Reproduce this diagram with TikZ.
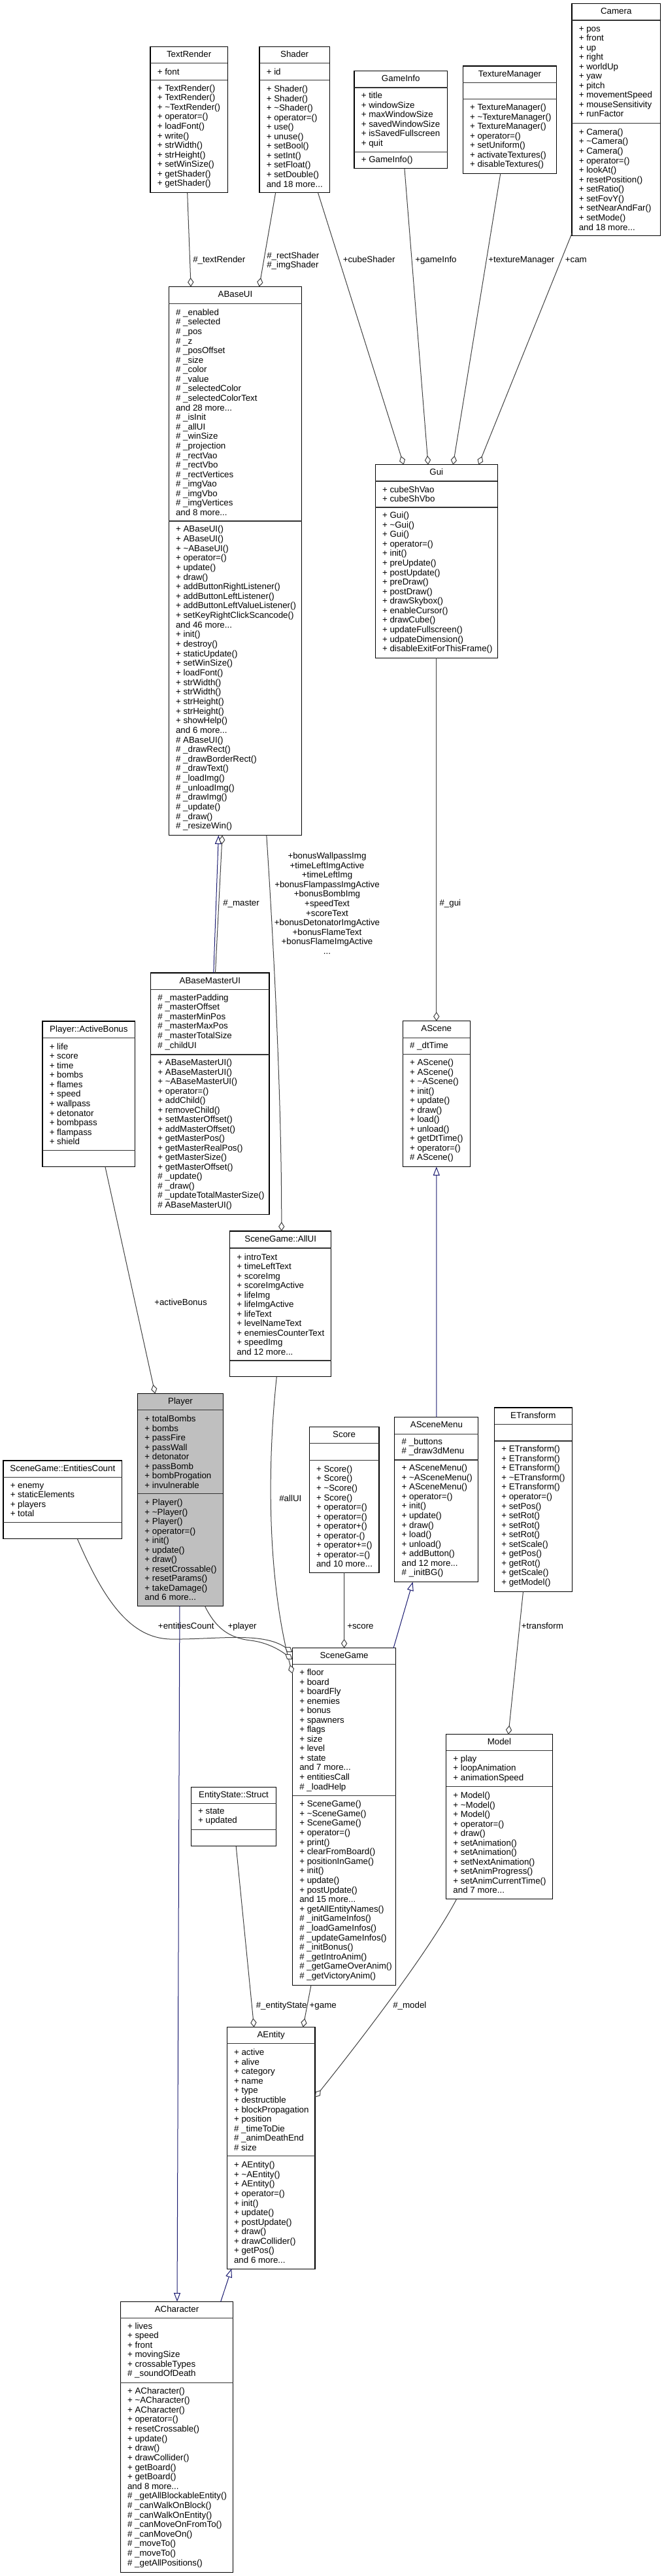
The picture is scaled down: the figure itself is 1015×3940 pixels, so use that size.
\documentclass[tikz,border=0pt]{standalone}
\usepackage{fontspec}
\setmainfont{Liberation Sans}
\usetikzlibrary{arrows.meta,calc}
\definecolor{gcol}{HTML}{404040}
\definecolor{icol}{HTML}{191970}
\definecolor{pfill}{HTML}{BFBFBF}
\newcommand\umlbox[9]{%
 \pgfmathsetmacro\bw{((#3)-(#2))*0.75}%
 \pgfmathsetmacro\bh{((#7)-(#4))*0.75}%
 \node[umlframe, fill=#8, minimum width=\bw pt, minimum height=\bh pt] (#1) at (#2,#4) {};
 \draw[sepline] (#2,#5) -- (#3,#5) (#2,#6) -- (#3,#6);
 \node[ttl] (#1-t) at ({((#2)+(#3))/2},{((#4)+(#5))/2}) {#9};
}
\newcommand\ctext[6]{%
 \pgfmathsetmacro\lsp{((#4)-(#3)-12)/(#5)*0.75}%
 \node[ctxt, font=\fontsize{10pt}{\lsp pt}\selectfont] (#1) at ({(#2)+10.5},{((#3)+(#4))/2}) {#6};
}
\newcommand\tl{\textasciitilde}
\begin{document}
\begin{tikzpicture}[x=0.75pt,y=-0.75pt, font=\fontsize{10pt}{10.95pt}\selectfont,
 umlframe/.style={draw=black, line width=0.8pt, inner sep=0pt, outer sep=0pt, anchor=north west},
 sepline/.style={draw=black!80, line width=0.8pt},
 ttl/.style={inner sep=0pt, text height=7.3pt, text depth=2.1pt},
 ctxt/.style={anchor=west, align=left, inner sep=0pt},
 elabel/.style={anchor=west, inner sep=0pt, text height=7.3pt, text depth=2.1pt},
 mlabel/.style={inner sep=0pt, font=\fontsize{10pt}{10.95pt}\selectfont},
 agg/.style={draw=gcol, line width=0.75pt, -{Diamond[length=10.5pt,width=7pt,fill=white]}},
 inh/.style={draw=icol, line width=0.75pt, -{Triangle[length=10pt,width=7.5pt,fill=white]}}]
\fill[white] (0,0) rectangle (1015,3940);
\useasboundingbox (0,0) rectangle (1015,3940);

% ---------- boxes ----------
\umlbox{TextRender}{230}{348.3}{71.4}{96.8}{122.5}{294.6}{white}{TextRender}
\ctext{TextRender-a}{230}{96.8}{122.5}{1}{+ font}
\ctext{TextRender-m}{230}{122.5}{294.6}{11}{+ TextRender()\\+ TextRender()\\+ \tl TextRender()\\+ operator=()\\+ loadFont()\\+ write()\\+ strWidth()\\+ strHeight()\\+ setWinSize()\\+ getShader()\\+ getShader()}

\umlbox{Shader}{397}{504.3}{71.4}{96.8}{122.5}{294.6}{white}{Shader}
\ctext{Shader-a}{397}{96.8}{122.5}{1}{+ id}
\ctext{Shader-m}{397}{122.5}{294.6}{11}{+ Shader()\\+ Shader()\\+ \tl Shader()\\+ operator=()\\+ use()\\+ unuse()\\+ setBool()\\+ setInt()\\+ setFloat()\\+ setDouble()\\and 18 more...}

\umlbox{GameInfo}{542}{684.5}{108.2}{134}{232.9}{257.9}{white}{GameInfo}
\ctext{GameInfo-a}{542}{134}{232.9}{6}{+ title\\+ windowSize\\+ maxWindowSize\\+ savedWindowSize\\+ isSavedFullscreen\\+ quit}
\ctext{GameInfo-m}{542}{232.9}{257.9}{1}{+ GameInfo()}

\umlbox{TextureManager}{708.3}{851.7}{101}{126.4}{151.8}{265.4}{white}{TextureManager}
\ctext{TextureManager-m}{708.3}{151.8}{265.4}{7}{+ TextureManager()\\+ \tl TextureManager()\\+ TextureManager()\\+ operator=()\\+ setUniform()\\+ activateTextures()\\+ disableTextures()}

\umlbox{Camera}{875}{1010.4}{5.4}{31}{188.2}{360.7}{white}{Camera}
\ctext{Camera-a}{875}{31}{188.2}{10}{+ pos\\+ front\\+ up\\+ right\\+ worldUp\\+ yaw\\+ pitch\\+ movementSpeed\\+ mouseSensitivity\\+ runFactor}
\ctext{Camera-m}{875}{188.2}{360.7}{11}{+ Camera()\\+ \tl Camera()\\+ Camera()\\+ operator=()\\+ lookAt()\\+ resetPosition()\\+ setRatio()\\+ setFovY()\\+ setNearAndFar()\\+ setMode()\\and 18 more...}

\umlbox{ABaseUI}{258.3}{461.7}{438.6}{464.3}{797}{1277.7}{white}{ABaseUI}
\ctext{ABaseUI-a}{258.3}{464.3}{797}{22}{\# \_enabled\\\# \_selected\\\# \_pos\\\# \_z\\\# \_posOffset\\\# \_size\\\# \_color\\\# \_value\\\# \_selectedColor\\\# \_selectedColorText\\and 28 more...\\\# \_isInit\\\# \_allUI\\\# \_winSize\\\# \_projection\\\# \_rectVao\\\# \_rectVbo\\\# \_rectVertices\\\# \_imgVao\\\# \_imgVbo\\\# \_imgVertices\\and 8 more...}
\ctext{ABaseUI-m}{258.3}{797}{1277.7}{32}{+ ABaseUI()\\+ ABaseUI()\\+ \tl ABaseUI()\\+ operator=()\\+ update()\\+ draw()\\+ addButtonRightListener()\\+ addButtonLeftListener()\\+ addButtonLeftValueListener()\\+ setKeyRightClickScancode()\\and 46 more...\\+ init()\\+ destroy()\\+ staticUpdate()\\+ setWinSize()\\+ loadFont()\\+ strWidth()\\+ strWidth()\\+ strHeight()\\+ strHeight()\\+ showHelp()\\and 6 more...\\\# ABaseUI()\\\# \_drawRect()\\\# \_drawBorderRect()\\\# \_drawText()\\\# \_loadImg()\\\# \_unloadImg()\\\# \_drawImg()\\\# \_update()\\\# \_draw()\\\# \_resizeWin()}

\umlbox{Gui}{574.3}{761.3}{710.8}{736}{776}{1006.4}{white}{Gui}
\ctext{Gui-a}{574.3}{736}{776}{2}{+ cubeShVao\\+ cubeShVbo}
\ctext{Gui-m}{574.3}{776}{1006.4}{15}{+ Gui()\\+ \tl Gui()\\+ Gui()\\+ operator=()\\+ init()\\+ preUpdate()\\+ postUpdate()\\+ preDraw()\\+ postDraw()\\+ drawSkybox()\\+ enableCursor()\\+ drawCube()\\+ updateFullscreen()\\+ udpateDimension()\\+ disableExitForThisFrame()}

\umlbox{ABaseMasterUI}{230.7}{412}{1488}{1513.3}{1613}{1857.3}{white}{ABaseMasterUI}
\ctext{ABaseMasterUI-a}{230.7}{1513.3}{1613}{6}{\# \_masterPadding\\\# \_masterOffset\\\# \_masterMinPos\\\# \_masterMaxPos\\\# \_masterTotalSize\\\# \_childUI}
\ctext{ABaseMasterUI-m}{230.7}{1613}{1857.3}{16}{+ ABaseMasterUI()\\+ ABaseMasterUI()\\+ \tl ABaseMasterUI()\\+ operator=()\\+ addChild()\\+ removeChild()\\+ setMasterOffset()\\+ addMasterOffset()\\+ getMasterPos()\\+ getMasterRealPos()\\+ getMasterSize()\\+ getMasterOffset()\\\# \_update()\\\# \_draw()\\\# \_updateTotalMasterSize()\\\# ABaseMasterUI()}

\umlbox{ActiveBonus}{65}{206.7}{1562}{1587.2}{1759.2}{1784.5}{white}{Player::ActiveBonus}
\ctext{ActiveBonus-a}{65}{1587.2}{1759.2}{11}{+ life\\+ score\\+ time\\+ bombs\\+ flames\\+ speed\\+ wallpass\\+ detonator\\+ bombpass\\+ flampass\\+ shield}

\umlbox{AScene}{616.3}{719.3}{1561.7}{1587.3}{1612.9}{1784.6}{white}{AScene}
\ctext{AScene-a}{616.3}{1587.3}{1612.9}{1}{\# \_dtTime}
\ctext{AScene-m}{616.3}{1612.9}{1784.6}{11}{+ AScene()\\+ AScene()\\+ \tl AScene()\\+ init()\\+ update()\\+ draw()\\+ load()\\+ unload()\\+ getDtTime()\\+ operator=()\\\# AScene()}

\umlbox{AllUI}{351.7}{506.7}{1883}{1909}{2081}{2105.8}{white}{SceneGame::AllUI}
\ctext{AllUI-a}{351.7}{1909}{2081}{11}{+ introText\\+ timeLeftText\\+ scoreImg\\+ scoreImgActive\\+ lifeImg\\+ lifeImgActive\\+ lifeText\\+ levelNameText\\+ enemiesCounterText\\+ speedImg\\and 12 more...}

\umlbox{Player}{210.7}{341.3}{2131.5}{2156.7}{2284.9}{2456.3}{pfill}{Player}
\ctext{Player-a}{210.7}{2156.7}{2284.9}{8}{+ totalBombs\\+ bombs\\+ passFire\\+ passWall\\+ detonator\\+ passBomb\\+ bombProgation\\+ invulnerable}
\ctext{Player-m}{210.7}{2284.9}{2456.3}{11}{+ Player()\\+ \tl Player()\\+ Player()\\+ operator=()\\+ init()\\+ update()\\+ draw()\\+ resetCrossable()\\+ resetParams()\\+ takeDamage()\\and 6 more...}

\umlbox{EntitiesCount}{5}{186.7}{2234}{2259.2}{2328.9}{2353.7}{white}{SceneGame::EntitiesCount}
\ctext{EntitiesCount-a}{5}{2259.2}{2328.9}{4}{+ enemy\\+ staticElements\\+ players\\+ total}

\umlbox{Score}{473.3}{580}{2182.3}{2207.7}{2233.3}{2405.3}{white}{Score}
\ctext{Score-m}{473.3}{2233.3}{2405.3}{11}{+ Score()\\+ Score()\\+ \tl Score()\\+ Score()\\+ operator=()\\+ operator=()\\+ operator+()\\+ operator-()\\+ operator+=()\\+ operator-=()\\and 10 more...}

\umlbox{ASceneMenu}{603.9}{731.9}{2167.7}{2193.3}{2233}{2419.7}{white}{ASceneMenu}
\ctext{ASceneMenu-a}{603.9}{2193.3}{2233}{2}{\# \_buttons\\\# \_draw3dMenu}
\ctext{ASceneMenu-m}{603.9}{2233}{2419.7}{12}{+ ASceneMenu()\\+ \tl ASceneMenu()\\+ ASceneMenu()\\+ operator=()\\+ init()\\+ update()\\+ draw()\\+ load()\\+ unload()\\+ addButton()\\and 12 more...\\\# \_initBG()}

\umlbox{ETransform}{756.5}{875.1}{2153}{2178.3}{2204}{2434.3}{white}{ETransform}
\ctext{ETransform-m}{756.5}{2204}{2434.3}{15}{+ ETransform()\\+ ETransform()\\+ ETransform()\\+ \tl ETransform()\\+ ETransform()\\+ operator=()\\+ setPos()\\+ setRot()\\+ setRot()\\+ setRot()\\+ setScale()\\+ getPos()\\+ getRot()\\+ getScale()\\+ getModel()}

\umlbox{SceneGame}{447.5}{605.7}{2520.7}{2545.7}{2746.8}{3036.4}{white}{SceneGame}
\ctext{SceneGame-a}{447.5}{2545.7}{2746.8}{13}{+ floor\\+ board\\+ boardFly\\+ enemies\\+ bonus\\+ spawners\\+ flags\\+ size\\+ level\\+ state\\and 7 more...\\+ entitiesCall\\\# \_loadHelp}
\ctext{SceneGame-m}{447.5}{2746.8}{3036.4}{19}{+ SceneGame()\\+ \tl SceneGame()\\+ SceneGame()\\+ operator=()\\+ print()\\+ clearFromBoard()\\+ positionInGame()\\+ init()\\+ update()\\+ postUpdate()\\and 15 more...\\+ getAllEntityNames()\\\# \_initGameInfos()\\\# \_loadGameInfos()\\\# \_updateGameInfos()\\\# \_initBonus()\\\# \_getIntroAnim()\\\# \_getGameOverAnim()\\\# \_getVictoryAnim()}

\umlbox{EntityState}{292.4}{422.7}{2733.2}{2758.6}{2798.2}{2823.9}{white}{EntityState::Struct}
\ctext{EntityState-a}{292.4}{2758.6}{2798.2}{2}{+ state\\+ updated}

\umlbox{Model}{682.7}{845.1}{2652.9}{2677.9}{2732.9}{2904.3}{white}{Model}
\ctext{Model-a}{682.7}{2677.9}{2732.9}{3}{+ play\\+ loopAnimation\\+ animationSpeed}
\ctext{Model-m}{682.7}{2732.9}{2904.3}{11}{+ Model()\\+ \tl Model()\\+ Model()\\+ operator=()\\+ draw()\\+ setAnimation()\\+ setAnimation()\\+ setNextAnimation()\\+ setAnimProgress()\\+ setAnimCurrentTime()\\and 7 more...}

\umlbox{AEntity}{347.3}{482}{3100.7}{3125.7}{3297.7}{3470}{white}{AEntity}
\ctext{AEntity-a}{347.3}{3125.7}{3297.7}{11}{+ active\\+ alive\\+ category\\+ name\\+ type\\+ destructible\\+ blockPropagation\\+ position\\\# \_timeToDie\\\# \_animDeathEnd\\\# size}
\ctext{AEntity-m}{347.3}{3297.7}{3470}{11}{+ AEntity()\\+ \tl AEntity()\\+ AEntity()\\+ operator=()\\+ init()\\+ update()\\+ postUpdate()\\+ draw()\\+ drawCollider()\\+ getPos()\\and 6 more...}

\umlbox{ACharacter}{184.3}{356.7}{3520.3}{3545.7}{3644.3}{3934}{white}{ACharacter}
\ctext{ACharacter-a}{184.3}{3545.7}{3644.3}{6}{+ lives\\+ speed\\+ front\\+ movingSize\\+ crossableTypes\\\# \_soundOfDeath}
\ctext{ACharacter-m}{184.3}{3644.3}{3934}{19}{+ ACharacter()\\+ \tl ACharacter()\\+ ACharacter()\\+ operator=()\\+ resetCrossable()\\+ update()\\+ draw()\\+ drawCollider()\\+ getBoard()\\+ getBoard()\\and 8 more...\\\# \_getAllBlockableEntity()\\\# \_canWalkOnBlock()\\\# \_canWalkOnEntity()\\\# \_canMoveOnFromTo()\\\# \_canMoveOn()\\\# \_moveTo()\\\# \_moveTo()\\\# \_getAllPositions()}

% ---------- connectors ----------
\draw[agg] ($(TextRender.south west)!0.479!(TextRender.south east)$) -- ($(ABaseUI.north west)!0.166!(ABaseUI.north east)$);
\draw[agg] ($(Shader.south west)!0.230!(Shader.south east)$) -- ($(ABaseUI.north west)!0.680!(ABaseUI.north east)$);
\draw[agg] ($(Shader.south west)!0.834!(Shader.south east)$) -- ($(Gui.north west)!0.232!(Gui.north east)$);
\draw[agg] ($(GameInfo.south west)!0.540!(GameInfo.south east)$) -- ($(Gui.north west)!0.432!(Gui.north east)$);
\draw[agg] ($(TextureManager.south west)!0.401!(TextureManager.south east)$) -- ($(Gui.north west)!0.636!(Gui.north east)$);
\draw[agg] ($(Camera.south west)!0.01!(Camera.north west)$) -- ($(Gui.north west)!0.845!(Gui.north east)$);
\draw[agg] (Gui.south) -- (AScene.north);
\draw[inh] ($(ABaseMasterUI.north west)!0.530!(ABaseMasterUI.north east)$) -- ($(ABaseUI.south west)!0.374!(ABaseUI.south east)$);
\draw[agg] ($(ABaseMasterUI.north west)!0.545!(ABaseMasterUI.north east)$) -- ($(ABaseUI.south west)!0.402!(ABaseUI.south east)$);
\draw[agg] ($(ABaseUI.south west)!0.735!(ABaseUI.south east)$) .. controls (421,1480) and (431,1700) .. ($(AllUI.north west)!0.510!(AllUI.north east)$);
\draw[agg] ($(ActiveBonus.south west)!0.677!(ActiveBonus.south east)$) -- ($(Player.north west)!0.204!(Player.north east)$);
\draw[agg] ($(AllUI.south west)!0.462!(AllUI.south east)$) .. controls (408,2250) and (410,2420) .. ($(SceneGame.north west)!0.076!(SceneGame.south west)$);
\draw[agg] ($(EntitiesCount.south west)!0.624!(EntitiesCount.south east)$) .. controls (160,2450) and (200,2505) .. (260,2507) .. controls (330,2508) and (400,2495) .. ($(SceneGame.north west)!0.012!(SceneGame.south west)$);
\draw[agg] ($(Player.south west)!0.786!(Player.south east)$) .. controls (330,2490) and (350,2505) .. (383,2509) .. controls (410,2512) and (430,2525) .. ($(SceneGame.north west)!0.034!(SceneGame.south west)$);
\draw[inh] ($(Player.south west)!0.492!(Player.south east)$) -- ($(ACharacter.north west)!0.503!(ACharacter.north east)$);
\draw[agg] (Score.south) -- (SceneGame.north);
\draw[inh] ($(SceneGame.north west)!0.977!(SceneGame.north east)$) -- ($(ASceneMenu.south west)!0.216!(ASceneMenu.south east)$);
\draw[inh] (ASceneMenu.north) -- (AScene.south);
\draw[agg] ($(ETransform.south west)!0.371!(ETransform.south east)$) -- ($(Model.north west)!0.586!(Model.north east)$);
\draw[agg] ($(EntityState.south west)!0.528!(EntityState.south east)$) -- ($(AEntity.north west)!0.307!(AEntity.north east)$);
\draw[agg] ($(SceneGame.south west)!0.180!(SceneGame.south east)$) -- ($(AEntity.north west)!0.864!(AEntity.north east)$);
\draw[agg] ($(Model.south west)!0.099!(Model.south east)$) .. controls (657,2984) and (546,3128) .. ($(AEntity.north east)!0.29!(AEntity.south east)$);
\draw[inh] ($(ACharacter.north west)!0.890!(ACharacter.north east)$) -- ($(AEntity.south west)!0.052!(AEntity.south east)$);

% ---------- connector labels ----------
\node[elabel] (l-textRender) at (295,398) {\#\_textRender};
\node[mlabel, anchor=west, align=left] (l-shader) at (408,399) {\#\_rectShader\\\#\_imgShader};
\node[elabel] (l-cubeShader) at (524.5,398) {+cubeShader};
\node[elabel] (l-gameInfo) at (635,398) {+gameInfo};
\node[elabel] (l-textureManager) at (747,398) {+textureManager};
\node[elabel] (l-cam) at (864.6,398) {+cam};
\node[elabel] (l-gui) at (672.3,1382.5) {\#\_gui};
\node[elabel] (l-master) at (341,1382) {\#\_master};
\node[mlabel, align=center] (l-allui) at (500.5,1381.7) {+bonusWallpassImg\\+timeLeftImgActive\\+timeLeftImg\\+bonusFlampassImgActive\\+bonusBombImg\\+speedText\\+scoreText\\+bonusDetonatorImgActive\\+bonusFlameText\\+bonusFlameImgActive\\...};
\node[elabel] (l-activeBonus) at (236,1993) {+activeBonus};
\node[elabel] (l-allUI2) at (427,2293) {\#allUI};
\node[elabel] (l-entitiesCount) at (241.7,2487.7) {+entitiesCount};
\node[elabel] (l-player) at (348.3,2487.7) {+player};
\node[elabel] (l-score) at (531,2487.7) {+score};
\node[elabel] (l-transform) at (797.5,2487.7) {+transform};
\node[elabel] (l-entityState) at (391.5,3067.9) {\#\_entityState};
\node[elabel] (l-game) at (473.4,3067.9) {+game};
\node[elabel] (l-model) at (601,3067.9) {\#\_model};
\end{tikzpicture}
\end{document}
